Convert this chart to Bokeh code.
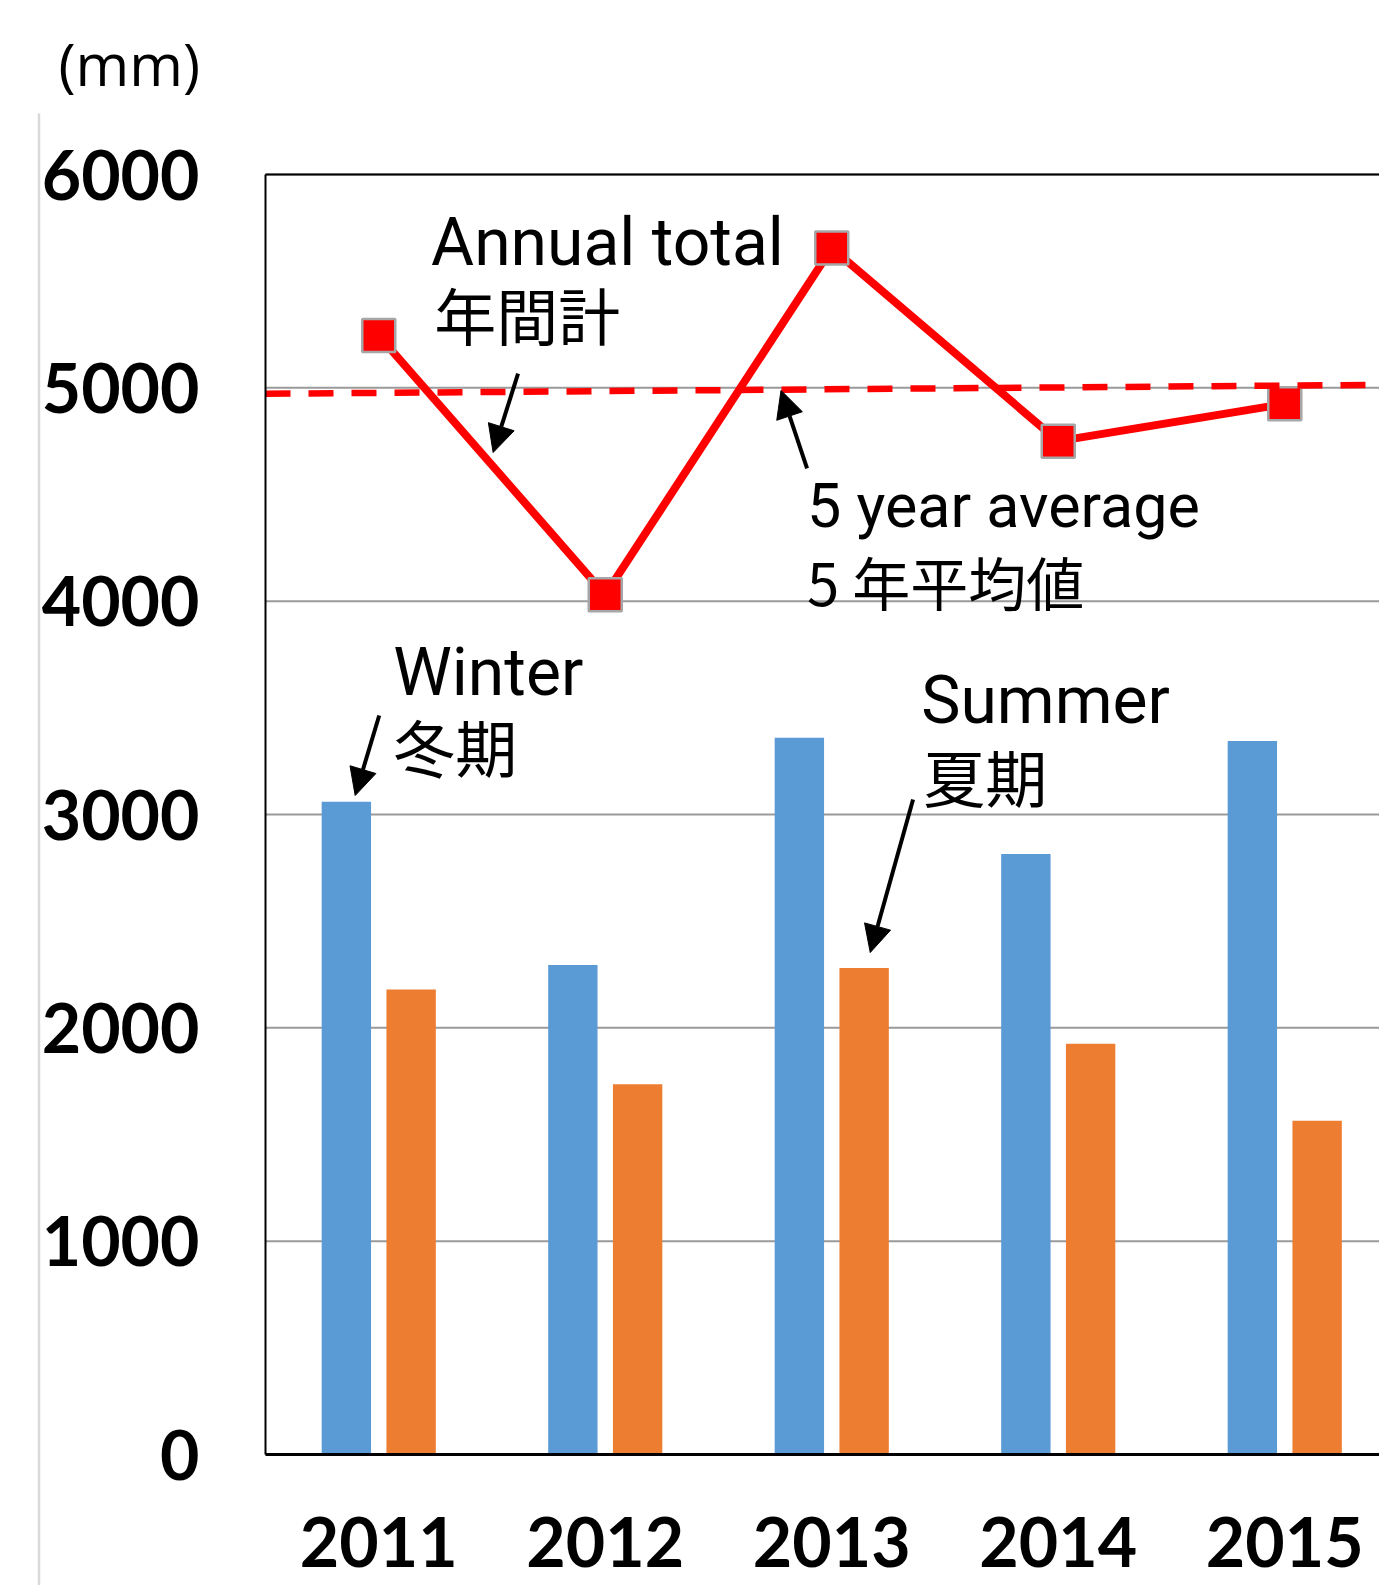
from bokeh.plotting import figure
from bokeh.models import Range1d, LinearAxis, FixedTicker, Arrow, NormalHead, Label
from bokeh.embed import file_html
from bokeh.resources import INLINE

# ---- data ----
years = ["2011", "2012", "2013", "2014", "2015"]
winter = [3060, 2295, 3360, 2815, 3345]
summer = [2180, 1735, 2280, 1925, 1565]
annual = [5245, 4030, 5655, 4750, 4925]
avg_ends = [4972, 5014]          # 5-year average line at left / right edge
y_ticks = [0, 1000, 2000, 3000, 4000, 5000, 6000]

xpos = list(range(1, len(years) + 1))

# ---- layout / style constants ----
W, H = 1379, 1585
FRAME_L, FRAME_T, FRAME_BOT = 265, 174, 1454      # pixel positions of plot box
SP = 226.5                                         # px per category
PPU = (FRAME_BOT - FRAME_T) / (y_ticks[-1] - y_ticks[0])   # px per mm
XS = 0.5 - FRAME_L / SP
XE = XS + W / SP
YE = y_ticks[-1] + FRAME_T / PPU
YS = YE - H / PPU
BAR_W = 0.218
OFF = 0.143
TICK_FONT = "Lato"
ANN_FONT = "Roboto"
CJK_FONT = "Noto Sans CJK JP"

p = figure(width=W, height=H, x_range=Range1d(XS, XE), y_range=Range1d(YS, YE),
           x_axis_type=None, y_axis_type=None,
           output_backend="svg", toolbar_location=None,
           min_border_left=0, min_border_right=0, min_border_top=0, min_border_bottom=0)
p.outline_line_color = None
p.background_fill_color = "white"
p.border_fill_color = "white"

# horizontal grid lines across the plot box
p.segment(x0=0.5, x1=XE, y0=y_ticks, y1=y_ticks, line_color="#9a9a9a", line_width=2)

# y axis at left edge of plot box
ya = LinearAxis(fixed_location=0.5, bounds=(y_ticks[0], y_ticks[-1]),
                ticker=FixedTicker(ticks=y_ticks))
ya.major_label_text_font = TICK_FONT
ya.major_label_text_font_style = "bold"
ya.major_label_text_font_size = "68px"
ya.major_label_text_color = "black"
ya.major_tick_line_color = None
ya.minor_tick_line_color = None
ya.major_tick_out = 0
ya.major_tick_in = 0
ya.major_label_standoff = 66
ya.axis_line_color = "black"
ya.axis_line_width = 2
p.add_layout(ya, "left")

# x axis at y=0
xa = LinearAxis(fixed_location=0, bounds=(0.5, XE), ticker=FixedTicker(ticks=xpos))
xa.major_label_overrides = {x: y for x, y in zip(xpos, years)}
xa.major_label_text_font = TICK_FONT
xa.major_label_text_font_style = "bold"
xa.major_label_text_font_size = "68px"
xa.major_label_text_color = "black"
xa.major_tick_line_color = None
xa.minor_tick_line_color = None
xa.major_tick_out = 0
xa.major_tick_in = 0
xa.major_label_standoff = 62
xa.axis_line_color = "black"
xa.axis_line_width = 3
p.add_layout(xa, "below")

# top border of plot box
top = LinearAxis(fixed_location=y_ticks[-1], bounds=(0.5, XE), ticker=FixedTicker(ticks=[]),
                 major_label_text_font_size="0px", major_tick_line_color=None,
                 minor_tick_line_color=None, axis_line_color="black", axis_line_width=2)
p.add_layout(top, "above")

# bars
p.vbar(x=[x - OFF for x in xpos], top=winter, bottom=0, width=BAR_W,
       fill_color="#5B9BD5", line_color=None)
p.vbar(x=[x + OFF for x in xpos], top=summer, bottom=0, width=BAR_W,
       fill_color="#ED7D31", line_color=None)

# annual total line
p.line(x=xpos, y=annual, line_color="red", line_width=8)
p.scatter(x=xpos, y=annual, marker="square", size=33, fill_color="red",
          line_color="#a6a6a6", line_width=2.5)

# 5-year average dashed line
p.line(x=[0.5, XE], y=avg_ends, line_color="red", line_width=6.5, line_dash="25 18")

# annotations (y given as glyph baseline; shift compensates label box offset)
def lab(x, y, t, font, size, shift):
    p.add_layout(Label(x=x, y=y + shift / PPU, text=t, text_font=font,
                       text_font_size=f"{size}px", text_color="black",
                       text_align="left", text_baseline="alphabetic"))

lab(1.231, 5573, "Annual total", ANN_FONT, 66, 23)
lab(1.245, 5227, "年間計", CJK_FONT, 62, 25)
lab(2.891, 4350, "5 year average", ANN_FONT, 61, 21)
lab(2.891, 3989, "5 年平均値", CJK_FONT, 58, 23)
lab(1.064, 3558, "Winter", ANN_FONT, 66, 23)
lab(1.064, 3206, "冬期", CJK_FONT, 62, 25)
lab(3.395, 3427, "Summer", ANN_FONT, 66, 23)
lab(3.404, 3061, "夏期", CJK_FONT, 62, 25)

def arrow(x0, y0, x1, y1):
    p.add_layout(Arrow(end=NormalHead(size=27, fill_color="black", line_color="black"),
                       x_start=x0, y_start=y0, x_end=x1, y_end=y1,
                       line_color="black", line_width=4))

arrow(1.615, 5067, 1.505, 4697)
arrow(2.891, 4622, 2.776, 4988)
arrow(1.002, 3464, 0.896, 3089)
arrow(3.359, 3070, 3.170, 2353)

# unit label and light vertical rule in the left margin
p.add_layout(Label(x=XS + 58 / SP, y=YE - 63 / PPU, text="(mm)", text_font="Open Sans",
                   text_font_size="58px", text_color="black",
                   text_align="left", text_baseline="middle"))
rule_x = XS + 38.5 / SP
p.segment(x0=rule_x, x1=rule_x, y0=YE - 113 / PPU, y1=YS, line_color="#d9d9d9", line_width=2.5)

open("out.html", "w").write(file_html(p, INLINE))
